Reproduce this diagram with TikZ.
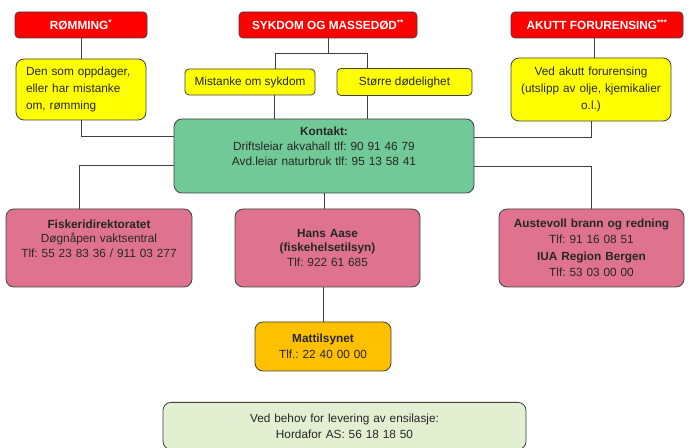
\documentclass[tikz,border=0pt]{standalone}
\usepackage{fontspec}
\setmainfont{Liberation Sans}
\usetikzlibrary{positioning}
\frenchspacing
\definecolor{alarmred}{RGB}{255,0,0}
\definecolor{noteyellow}{RGB}{255,255,0}
\definecolor{contactgreen}{RGB}{112,201,150}
\definecolor{helppink}{RGB}{223,115,143}
\definecolor{mattorange}{RGB}{255,192,0}
\definecolor{fodgreen}{RGB}{227,239,209}
\definecolor{linegray}{RGB}{64,64,64}
\definecolor{textgray}{RGB}{38,38,38}
\begin{document}
\begin{tikzpicture}[x=1pt,y=1pt,on grid,
	box/.style={draw=linegray,line width=0.8pt,rounded corners=8pt,text=textgray,inner sep=0pt,align=center,font=\fontsize{11.8}{14.5}\selectfont},
	alarm/.style={box,fill=alarmred,text=white,rounded corners=4pt,minimum height=26pt,font=\bfseries\fontsize{11.8}{14}\selectfont},
	note/.style={box,fill=noteyellow},
	contact/.style={box,fill=contactgreen},
	help/.style={box,fill=helppink,text width=185pt,minimum height=78pt},
	wire/.style={draw=linegray,line width=1pt}]
			\useasboundingbox (0,0) rectangle (693,447);
			\clip (0,0) rectangle (693,447);
			\node[alarm,minimum width=132pt](rom) at (81,422) {RØMMING\textsuperscript{*}};
			\node[alarm,minimum width=178pt](syk)[right=247pt of rom] {SYKDOM OG MASSEDØD\textsuperscript{**}};
			\node[alarm,minimum width=172pt](akutt)[right=269pt of syk] {AKUTT FORURENSING\textsuperscript{***}};
			\node[note,text width=110pt,inner xsep=10pt,minimum height=61pt,align=left,font=\fontsize{11.8}{17}\selectfont](den)[below=64.5pt of rom] {Den som oppdager,\\eller har mistanke\\om, rømming};
			\node[note,rounded corners=4pt,minimum width=130pt,minimum height=26pt](mist) at (250,365) {Mistanke om sykdom};
			\node[note,rounded corners=4pt,minimum width=135pt,minimum height=27pt](storre)[right=154.5pt of mist] {Større dødelighet};
			\node[note,text width=160pt,minimum height=63pt,font=\fontsize{11.8}{17}\selectfont](ved) at (591,357.5) {Ved akutt forurensing\\(utslipp av olje, kjemikalier\\o.l.)};
			\node[contact,text width=300pt,minimum height=74pt,font=\fontsize{11.8}{15}\selectfont](kontakt) at (324,291) {\textbf{Kontakt:}\\Driftsleiar akvahall tlf: 90 91 46 79\\Avd.leiar naturbruk tlf: 95 13 58 41\\\strut};
			\node[help,text width=186pt](fisk) at (99,199) {\textbf{Fiskeridirektoratet}\\Døgnåpen vaktsentral\\Tlf: 55 23 83 36 / 911 03 277\\\strut};
			\node[help](hans)[right=228.5pt of fisk] {\textbf{Hans Aase}\\\textbf{(fiskehelsetilsyn)}\\Tlf: 922 61 685};
			\node[help,font=\fontsize{11.8}{16.5}\selectfont](aust) at (591.5,199) {\textbf{Austevoll brann og redning}\\Tlf: 91 16 08 51\\\textbf{IUA Region Bergen}\\Tlf: 53 03 00 00};
			\node[box,fill=mattorange,text width=136pt,minimum height=49pt,font=\fontsize{11.8}{16.5}\selectfont](matt) at (323,100.5) {\textbf{Mattilsynet}\\Tlf.: 22 40 00 00};
			\node[box,fill=fodgreen,text width=363pt,minimum height=47pt,anchor=north,font=\fontsize{11.8}{16}\selectfont](horda) at (344.5,45) {Ved behov for levering av ensilasje:\\Hordafor AS: 56 18 18 50};
			\draw[wire] (rom) -- (den);
			\draw[wire] (syk.south) -- ++(0,-15) coordinate (sj);
			\draw[wire] ([xshift=25pt]mist.north) |- (sj) -| ([xshift=-37pt]storre.north);
			\draw[wire] ([xshift=24pt]mist.south) -- ([xshift=24pt]mist.south |- kontakt.north);
			\draw[wire] ([xshift=-37pt]storre.south) -- ([xshift=-37pt]storre.south |- kontakt.north);
			\draw[wire] ([xshift=-3pt]akutt.south) -- ([xshift=-3pt]akutt.south |- ved.north);
			\draw[wire] (den.south) |- ([yshift=19pt]kontakt.west);
			\draw[wire] (ved.south) |- ([yshift=18pt]kontakt.east);
			\draw[wire] ([yshift=-10pt]kontakt.west) -| ([xshift=-20pt]fisk.north);
			\draw[wire] ([yshift=-11pt]kontakt.east) -| (aust.north);
			\draw[wire] (kontakt.south) -- (kontakt.south |- hans.north);
			\draw[wire] (matt.north) -- (matt.north |- hans.south);
\end{tikzpicture}
\end{document}
